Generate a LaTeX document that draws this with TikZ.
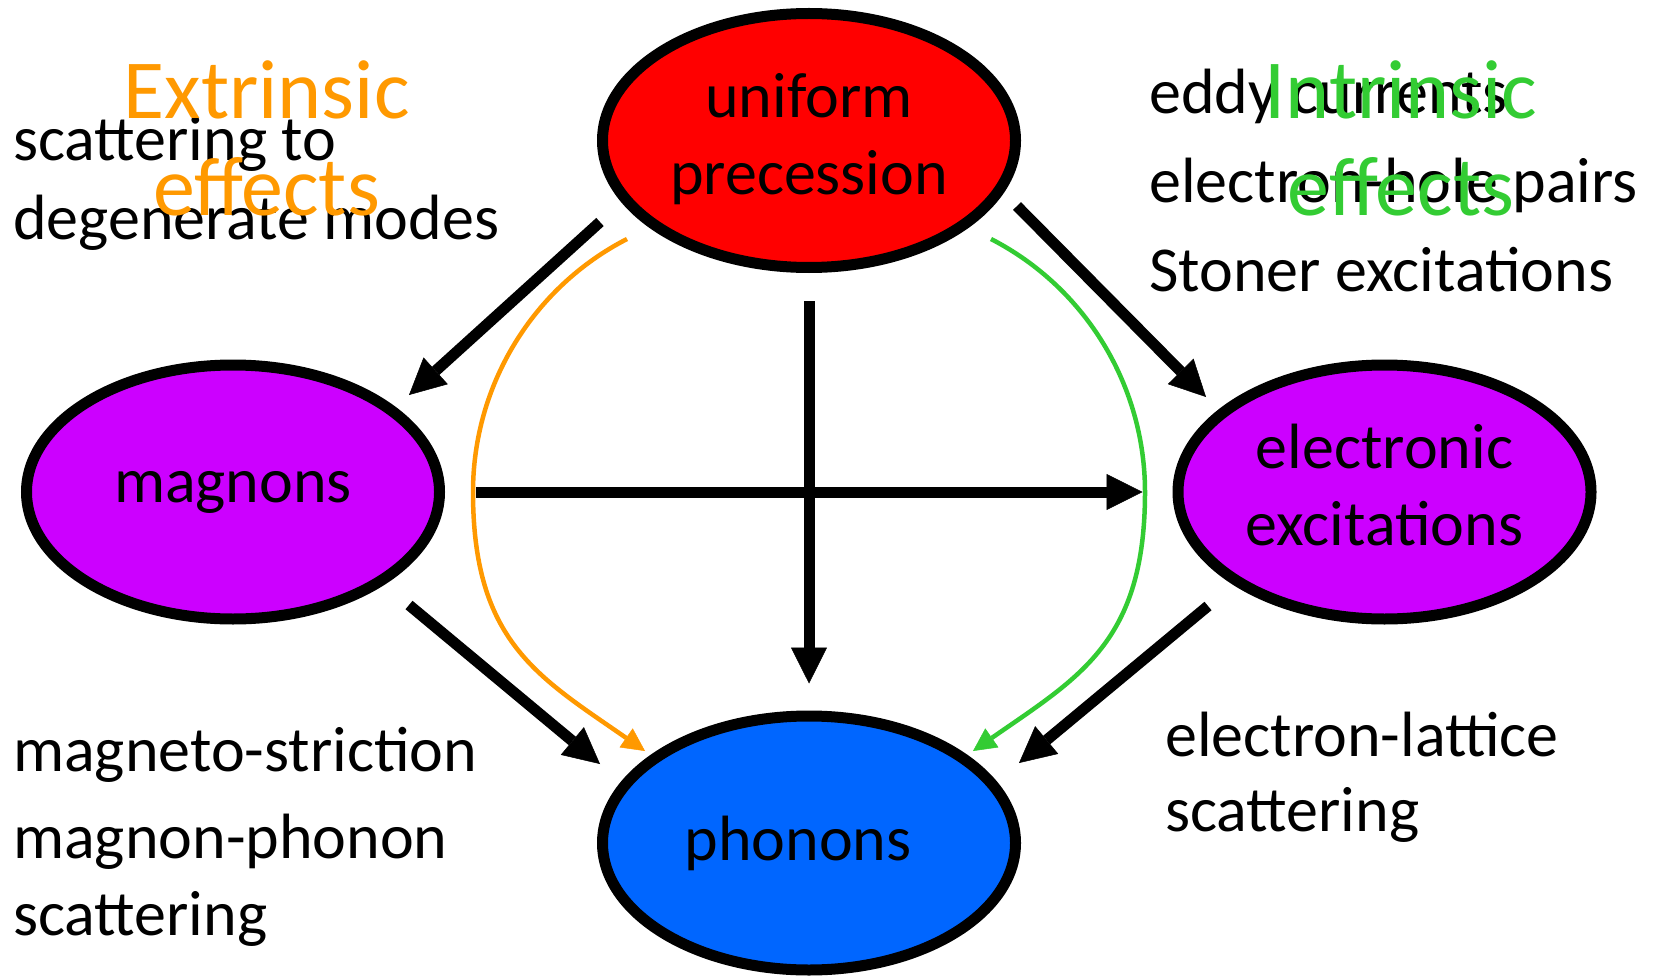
\documentclass[tikz,border=0pt]{standalone}
\usepackage{fontspec}
\setmainfont{Carlito}
\usetikzlibrary{arrows.meta,shapes.geometric}
\definecolor{cred}{RGB}{255,0,0}
\definecolor{cpurple}{RGB}{204,0,255}
\definecolor{cblue}{RGB}{0,102,255}
\definecolor{corange}{RGB}{255,153,0}
\definecolor{cgreen}{RGB}{51,204,51}
\begin{document}
\begin{tikzpicture}[x=1pt,y=-1pt,
  bubble/.style={ellipse, draw=black, line width=11pt, minimum width=413pt, minimum height=254pt,
    inner sep=0pt, align=center, font=\fontsize{64pt}{77pt}\selectfont},
  lbl/.style={anchor=base west, inner sep=0pt, font=\fontsize{64pt}{77pt}\selectfont},
  big/.style={anchor=base, inner sep=0pt, font=\fontsize{84pt}{97pt}\selectfont},
  flow/.style={line width=11pt, -{Triangle[length=36pt,width=36pt,line width=0.5pt]}},
  cflow/.style={line width=4.5pt, -{Triangle[length=23pt,width=23pt,line width=0.5pt]}}
]
\useasboundingbox[fill=white] (0,0) rectangle (1656,976);

% main bubbles
\node[bubble, fill=cred] (up) at (809,140.5)
  {\raisebox{5pt}{\begin{tabular}{@{}c@{}}uniform\\precession\end{tabular}}};
\node[bubble, fill=cpurple] (mag) at (233,492) {\raisebox{-5pt}{magnons}};
\node[bubble, fill=cpurple] (el) at (1384.5,492)
  {\begin{tabular}{@{}c@{}}electronic\\excitations\end{tabular}};
\node[bubble, fill=cblue] (ph) at (809,843) {\raisebox{-5pt}{phonons}\hspace*{22pt}};

% side texts
\node[lbl] (t1) at (13,161) {scattering to};
\node[lbl] (t2) at (13,240) {degenerate modes};
\node[lbl] (t3) at (1149,114) {eddy currents};
\node[lbl] (t4) at (1149,203) {electron-hole pairs};
\node[lbl] (t5) at (1149,291) {Stoner excitations};
\node[lbl] (t6) at (13,771) {magneto-striction};
\node[lbl] (t7) at (13,858) {magnon-phonon};
\node[lbl] (t8) at (13,935) {scattering};
\node[lbl] (t9) at (1165,756) {electron-lattice};
\node[lbl] (t10) at (1165,831) {scattering};

% coloured headings
\node[big, text=corange] (ex1) at (266.7,119) {Extrinsic};
\node[big, text=corange] (ex2) at (266.7,216) {effects};
\node[big, text=cgreen] (in1) at (1401,119) {Intrinsic};
\node[big, text=cgreen] (in2) at (1401,216) {effects};

% free ends of connectors
\coordinate (a1s) at (600,222);  \coordinate (a1e) at (409,395);
\coordinate (a2s) at (1017,206); \coordinate (a2e) at (1206,397);
\coordinate (a5s) at (409,605);  \coordinate (a5e) at (600,764);
\coordinate (a6s) at (1208,606); \coordinate (a6e) at (1019,763);
\coordinate (os) at (627,239); \coordinate (om) at (473,492); \coordinate (oe) at (645,751);
\coordinate (gs) at (991,239); \coordinate (gm) at (1145,492); \coordinate (ge) at (973,751);

% curved arrows
\draw[cflow, draw=corange, color=corange] (os) .. controls (532.4,287.6) and (473,385.6) .. (om)
  .. controls (473,642) and (538.4,676.9) .. (oe);
\draw[cflow, draw=cgreen, color=cgreen] (gs) .. controls (1085.6,287.6) and (1145,385.6) .. (gm)
  .. controls (1145,642) and (1079.6,676.9) .. (ge);

% straight arrows
\draw[flow] (a1s) -- (a1e);
\draw[flow] (a2s) -- (a2e);
\draw[flow] (a5s) -- (a5e);
\draw[flow] (a6s) -- (a6e);
\draw[flow, shorten <=28pt, shorten >=27pt] (up) -- (ph);
\draw[flow, shorten <=31pt, shorten >=30pt] (mag) -- (el);
\end{tikzpicture}
\end{document}
